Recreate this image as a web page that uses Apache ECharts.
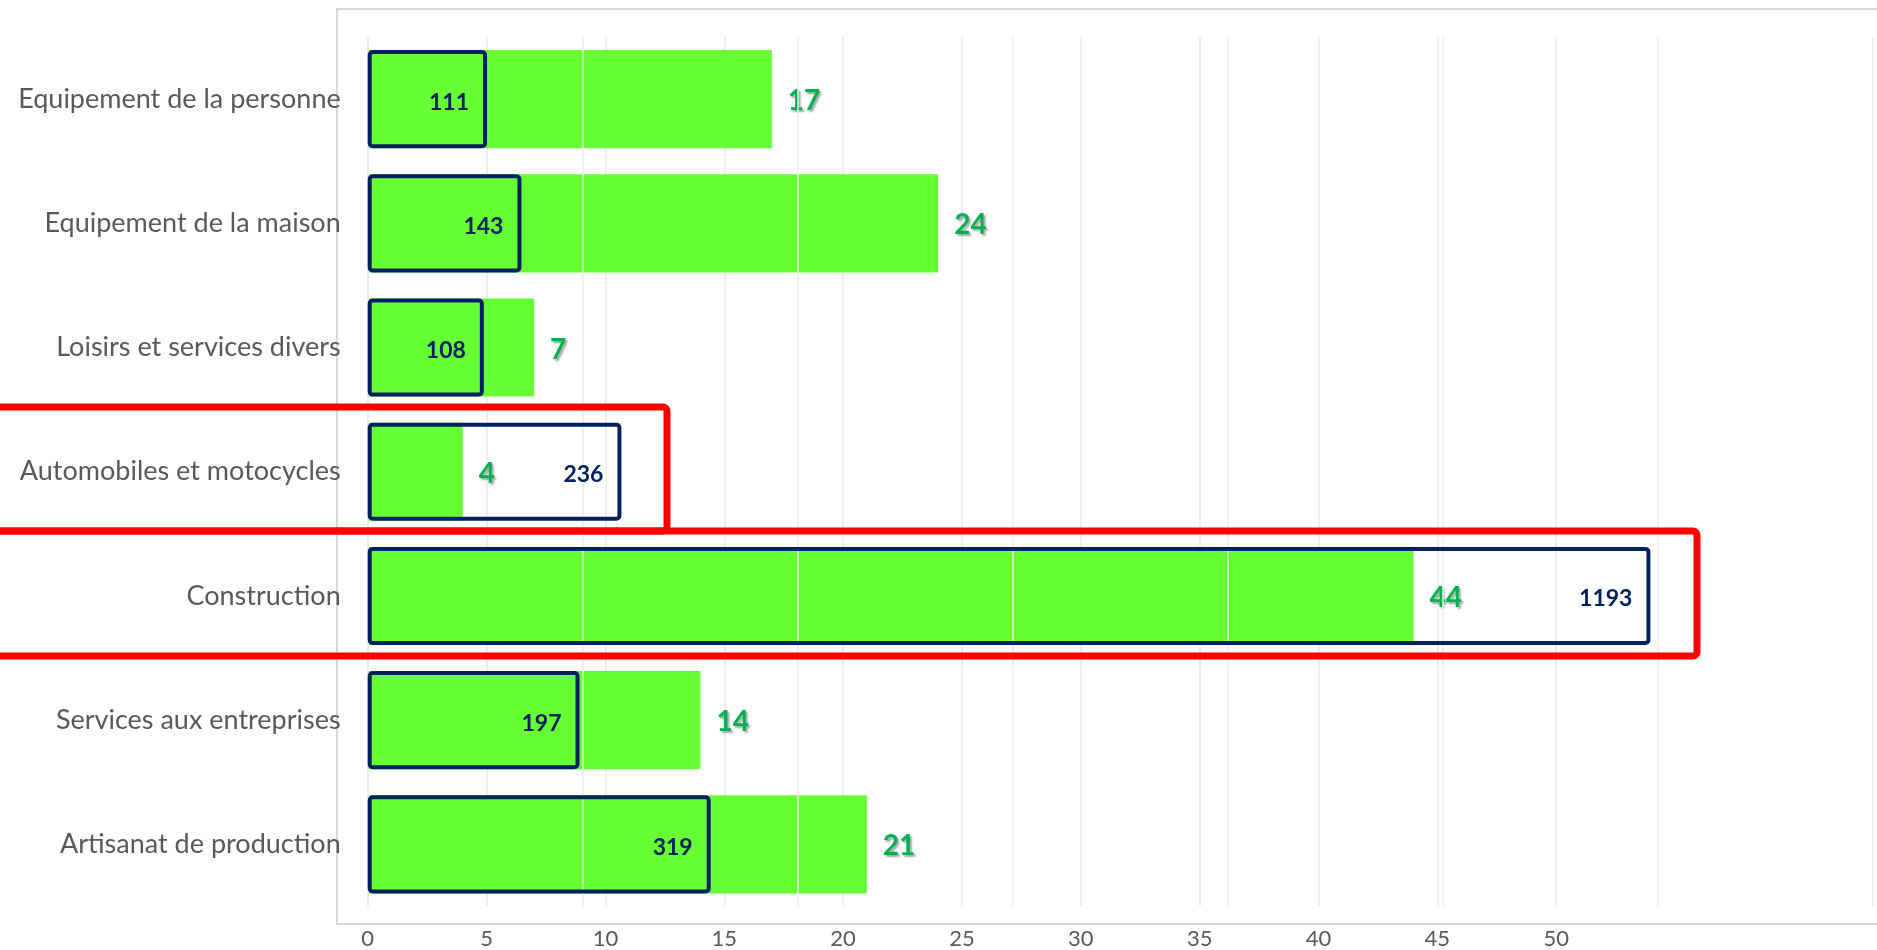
<!DOCTYPE html>
<html>
<head>
<meta charset="utf-8">
<script src="https://cdn.jsdelivr.net/npm/echarts@6/dist/echarts.min.js"></script>
<style>
html, body { margin: 0; padding: 0; background: #fff; }
#main { width: 1877px; height: 950px; }
</style>
</head>
<body>
<div id="main"></div>
<script>
// données du graphique
var categories = [
  'Equipement de la personne',
  'Equipement de la maison',
  'Loisirs et services divers',
  'Automobiles et motocycles',
  'Construction',
  'Services aux entreprises',
  'Artisanat de production'
];
var greenValues = [17, 24, 7, 4, 44, 14, 21];
var boxValues = [111, 143, 108, 236, 1193, 197, 319];
var tickMax = 50;
var tickStep = 5;
var secondaryMax = 1400;
var secondaryStep = 200;

var myChart = echarts.init(document.getElementById('main'));
var font = 'Lato';

var option = {
  animation: false,
  textStyle: { fontFamily: font },
  grid: [
    { left: 367.7, right: 4, top: 37, height: 869.5 },
    { left: 367.7, width: 1188.5, top: 37, height: 869.5 }
  ],
  xAxis: [
    {
      // axe principal (barres vertes), caché
      type: 'value', gridIndex: 0, min: 0, max: 63.33,
      show: false
    },
    {
      // axe secondaire (cadres), seulement les lignes
      type: 'value', gridIndex: 0, position: 'top', min: 0, max: secondaryMax, interval: secondaryStep,
      z: 2,
      axisLine: { show: false }, axisTick: { show: false }, axisLabel: { show: false },
      splitLine: { show: true, lineStyle: { color: '#ececec', width: 1.5 } }
    },
    {
      // graduations 0 - 50
      type: 'value', gridIndex: 1, min: 0, max: tickMax, interval: tickStep,
      z: 0,
      axisLine: { show: false }, axisTick: { show: false },
      axisLabel: { color: '#595959', fontSize: 22, margin: 22, fontFamily: font },
      splitLine: { show: true, lineStyle: { color: '#e8e8e8', width: 1.5 } }
    }
  ],
  yAxis: [
    {
      type: 'category', gridIndex: 0, data: categories, inverse: true,
      axisLine: { show: false }, axisTick: { show: false },
      axisLabel: { color: '#595959', fontSize: 27, margin: 27, fontFamily: font }
    },
    { type: 'value', gridIndex: 1, show: false }
  ],
  graphic: [
    {
      type: 'rect', z: 0, silent: true,
      shape: { x: 337, y: 9, width: 1600, height: 915 },
      style: { fill: 'none', stroke: '#d9d9d9', lineWidth: 2 }
    },
    {
      type: 'rect', z: 100, silent: true,
      shape: { x: -20, y: 407, width: 687, height: 124, r: 4 },
      style: { fill: 'none', stroke: '#ff0000', lineWidth: 7 }
    },
    {
      type: 'rect', z: 100, silent: true,
      shape: { x: -20, y: 531, width: 1717, height: 125, r: 4 },
      style: { fill: 'none', stroke: '#ff0000', lineWidth: 7 }
    }
  ],
  series: [
    {
      name: 'vert',
      type: 'bar',
      xAxisIndex: 0, yAxisIndex: 0,
      z: 1,
      barCategoryGap: '21%',
      barGap: '-100%',
      data: greenValues,
      itemStyle: { color: '#66ff33' },
      label: {
        show: true, position: 'right', distance: 16, offset: [0, 2],
        color: '#00b050', fontSize: 28, fontWeight: 'bold', fontFamily: font,
        textShadowColor: 'rgba(0,0,0,0.35)', textShadowOffsetX: 2, textShadowOffsetY: 2, textShadowBlur: 2
      }
    },
    {
      name: 'cadre',
      type: 'bar',
      xAxisIndex: 1, yAxisIndex: 0,
      z: 3,
      barCategoryGap: '21%',
      barGap: '-100%',
      data: boxValues,
      itemStyle: { color: 'rgba(0,0,0,0)', borderColor: '#002060', borderWidth: 4, borderRadius: 3 },
      label: {
        show: true, position: 'insideRight', distance: 18, offset: [0, 3],
        color: '#002060', fontSize: 23, fontWeight: 'bold', fontFamily: font
      }
    }
  ]
};

myChart.setOption(option, true);
</script>
</body>
</html>
